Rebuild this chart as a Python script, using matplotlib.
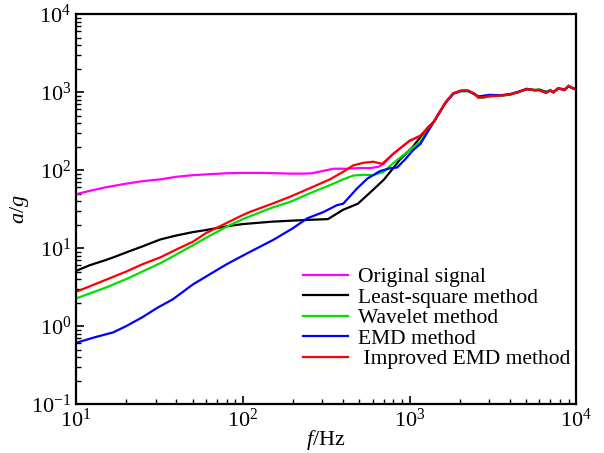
import matplotlib
matplotlib.use("Agg")
import matplotlib.pyplot as plt

plt.rcParams['font.family'] = 'Liberation Serif'
plt.rcParams['mathtext.fontset'] = 'custom'
plt.rcParams['mathtext.rm'] = 'Liberation Serif'
plt.rcParams['mathtext.it'] = 'Liberation Serif:italic'

# high-frequency part, where all the curves run together
f_tail = [1400, 1640, 1830, 2030, 2250, 2450, 2600, 2800, 3040, 3500, 4000, 4500,
          5050, 5600, 6000, 6600, 7000, 7300, 7800, 8500, 9000, 9500, 10000]
tail_red = [415, 730, 960, 1040, 1040, 950, 850, 860, 890, 900, 930, 1000,
            1090, 1060, 1060, 980, 1050, 990, 1120, 1060, 1200, 1120, 1080]
tail_blue = [420, 720, 950, 1030, 1030, 940, 880, 900, 920, 910, 940, 1010,
             1100, 1050, 1070, 1000, 1040, 1000, 1110, 1070, 1180, 1130, 1090]
tail_green = [410, 725, 955, 1020, 1030, 930, 840, 850, 880, 890, 925, 990,
              1100, 1070, 1080, 1010, 1070, 1000, 1130, 1080, 1210, 1110, 1090]

f_orig = [10, 12, 15, 20, 25, 32, 40, 50, 60, 80, 100, 130, 160, 192, 230, 260, 300,
          350, 420, 500, 580, 650, 700, 800, 1000, 1160]
a_orig = [49, 54, 60, 67, 72, 76, 82, 86, 88, 91, 92, 92, 91, 90, 90, 91, 97,
          104, 104, 106, 106, 110, 120, 162, 237, 275]

f_ls = [10, 12, 15, 17, 20, 25, 32, 40, 50, 60, 80, 100, 150, 200, 250, 324, 400,
        490, 600, 700, 800, 875, 1050, 1280]
a_ls = [5.1, 6.0, 7.0, 7.7, 8.8, 10.5, 12.9, 14.5, 16, 17, 19, 20.3, 21.8, 22.5, 23,
        23.5, 31, 37, 55, 75, 106, 136, 200, 345]

f_wav = [10, 15, 20, 25, 32, 40, 50, 60, 80, 100, 150, 192, 250, 333, 400, 460, 530,
         606, 700, 800, 1000, 1160]
a_wav = [2.26, 3.1, 4.0, 5.0, 6.4, 8.3, 10.8, 13.5, 18.8, 23.5, 33, 39, 50, 64, 76,
         85, 87, 86, 95, 123, 180, 230]

f_emd = [10, 13, 16.7, 20, 25, 30.5, 38, 50, 60, 80, 100, 110, 152, 200, 243, 305,
         367, 400, 484, 560, 665, 760, 844, 950, 1050, 1160]
a_emd = [0.61, 0.72, 0.83, 1.0, 1.3, 1.7, 2.2, 3.4, 4.3, 6.2, 8.0, 8.9, 12.7, 18, 24,
         29, 35.5, 37, 58, 78, 97, 105, 108, 140, 180, 215]

f_imp = [10, 15, 20, 25, 32, 40, 50, 60, 80, 100, 110, 150, 192, 250, 333, 400, 460,
         530, 606, 685, 800, 1000, 1160]
a_imp = [2.75, 3.9, 5.0, 6.2, 7.6, 9.6, 12, 15.5, 21, 26.5, 29, 37, 45.5, 58, 76, 95,
         115, 124, 128, 120, 162, 237, 275]

fig = plt.figure(figsize=(6.04, 4.53), dpi=100)
ax = fig.add_axes([0.126, 0.108, 0.828, 0.861])

lw = 1.6
ax.plot(f_orig + f_tail, a_orig + tail_red, color='#ff00ff', lw=lw, label='Original signal')
ax.plot(f_ls + f_tail, a_ls + tail_red, color='black', lw=lw, label='Least-square method')
ax.plot(f_wav + f_tail, a_wav + tail_green, color='#00e000', lw=lw, label='Wavelet method')
ax.plot(f_emd + f_tail, a_emd + tail_blue, color='#0000ff', lw=lw, label='EMD method')
ax.plot(f_imp + f_tail, a_imp + tail_red, color='#ff0000', lw=lw, label=' Improved EMD method')

ax.set_xscale('log')
ax.set_yscale('log')
ax.set_xlim(10, 1e4)
ax.set_ylim(0.1, 1e4)

ax.set_xlabel('$f$/Hz', fontsize=16, labelpad=-3)
ax.set_ylabel('$a$/$g$', fontsize=16, labelpad=0)

ax.tick_params(which='both', direction='in', top=False, right=False, labelsize=16)
ax.tick_params(which='major', length=6, width=1.2)
ax.tick_params(which='minor', length=3.5, width=1.0)
for s in ax.spines.values():
    s.set_linewidth(1.6)

ax.legend(loc='upper left', bbox_to_anchor=(0.502, 0.41), bbox_transform=fig.transFigure,
          borderaxespad=0, borderpad=0, frameon=False, fontsize=15.5,
          handlelength=2.1, labelspacing=0.02, handletextpad=0.45)

fig.savefig('out.png', dpi=100)
